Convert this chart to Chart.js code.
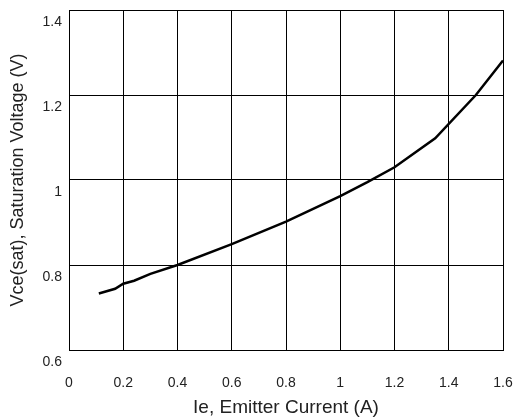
<!DOCTYPE html>
<html>
<head>
<meta charset="utf-8">
<script src="https://cdn.jsdelivr.net/npm/chart.js@4/dist/chart.umd.min.js"></script>
<style>
  html, body { margin: 0; padding: 0; background: #fff; }
  #wrap { width: 518px; height: 419px; }
</style>
</head>
<body>
<div id="wrap"><canvas id="chart-area" width="518" height="419"></canvas></div>
<script>
// Ie (A) vs Vce(sat) (V)
var currents = [0.11, 0.17, 0.2, 0.24, 0.3, 0.4, 0.6, 0.8, 1.0, 1.1, 1.2, 1.35, 1.5, 1.6];
var satVoltage = [0.733, 0.744, 0.756, 0.763, 0.779, 0.8, 0.849, 0.902, 0.962, 0.995, 1.03, 1.098, 1.2, 1.281];
var xTicks = [0, 0.2, 0.4, 0.6, 0.8, 1, 1.2, 1.4, 1.6];
var yTicks = [0.6, 0.8, 1, 1.2, 1.4];

var points = currents.map(function(x, i) {
    return { x: x, y: satVoltage[i] };
});

function fmt(v) {
    return String(Number(v.toFixed(1)));
}

var config = {
    type: 'scatter',
    data: {
        datasets: [{
            data: points,
            showLine: true,
            borderColor: '#000',
            borderWidth: 2.5,
            pointRadius: 0,
            tension: 0,
            fill: false
        }]
    },
    options: {
        responsive: false,
        animation: false,
        layout: {
            padding: { top: 10, right: 15, bottom: 0, left: 0 }
        },
        plugins: {
            legend: { display: false },
            tooltip: { enabled: false }
        },
        scales: {
            x: {
                type: 'linear',
                min: xTicks[0],
                max: xTicks[xTicks.length - 1],
                afterBuildTicks: function(scale) {
                    scale.ticks = xTicks.map(function(v) { return { value: v }; });
                },
                afterFit: function(scale) {
                    scale.height = 69;
                    scale.paddingLeft = 0;
                    scale.paddingRight = 0;
                },
                grid: { color: '#000', lineWidth: 1, drawTicks: false },
                border: { color: '#000', width: 1 },
                ticks: {
                    padding: 25,
                    color: '#222',
                    font: { family: 'Liberation Sans, Arial, sans-serif', size: 14 },
                    maxRotation: 0,
                    callback: fmt
                },
                title: {
                    display: true,
                    text: 'Ie, Emitter Current (A)',
                    color: '#222',
                    font: { family: 'Liberation Sans, Arial, sans-serif', size: 19 },
                    padding: { top: 0, bottom: 0 }
                }
            },
            y: {
                type: 'linear',
                min: yTicks[0],
                max: yTicks[yTicks.length - 1],
                afterBuildTicks: function(scale) {
                    scale.ticks = yTicks.map(function(v) { return { value: v }; });
                },
                afterFit: function(scale) {
                    scale.width = 69;
                    scale.paddingTop = 0;
                    scale.paddingBottom = 0;
                },
                grid: { color: '#000', lineWidth: 1, drawTicks: false },
                border: { color: '#000', width: 1 },
                ticks: {
                    padding: 7,
                    labelOffset: 12,
                    color: '#222',
                    font: { family: 'Liberation Sans, Arial, sans-serif', size: 14 },
                    callback: fmt
                },
                title: {
                    display: true,
                    text: 'Vce(sat), Saturation Voltage (V)',
                    color: '#222',
                    font: { family: 'Liberation Sans, Arial, sans-serif', size: 18 },
                    padding: { top: 7, bottom: 0 }
                }
            }
        }
    }
};

window.onload = function() {
    var ctx = document.getElementById('chart-area').getContext('2d');
    window.satChart = new Chart(ctx, config);
};
</script>
</body>
</html>
